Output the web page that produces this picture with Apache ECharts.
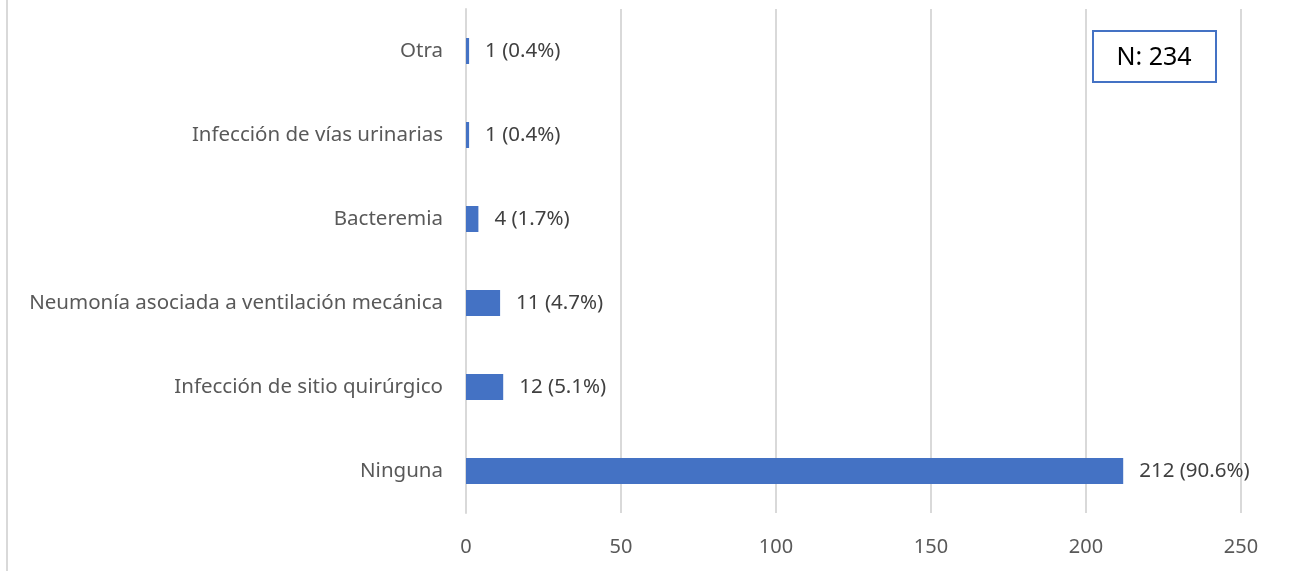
<!DOCTYPE html>
<html>
<head>
<meta charset="utf-8">
<script src="https://cdn.jsdelivr.net/npm/echarts@6/dist/echarts.min.js"></script>
<style>
  html, body { margin: 0; padding: 0; background: #fff; }
  #chart { width: 1289px; height: 571px; }
</style>
</head>
<body>
<div id="chart"></div>
<script>
// categories listed bottom to top
var categories = [
    'Ninguna',
    'Infección de sitio quirúrgico',
    'Neumonía asociada a ventilación mecánica',
    'Bacteremia',
    'Infección de vías urinarias',
    'Otra'
];
var counts = [212, 12, 11, 4, 1, 1];
var percents = ['90.6%', '5.1%', '4.7%', '1.7%', '0.4%', '0.4%'];
var totalLabel = 'N: 234';

var fontFamily = '"Noto Sans", "Open Sans", sans-serif';

var chartDom = document.getElementById('chart');
var myChart = echarts.init(chartDom);

var option = {
    backgroundColor: '#fff',
    animation: false,
    textStyle: { fontFamily: fontFamily },
    grid: {
        left: 466,
        right: 48,
        top: 9,
        bottom: 58,
        containLabel: false
    },
    xAxis: {
        type: 'value',
        min: 0,
        max: 250,
        interval: 50,
        axisLine: { show: false },
        axisTick: { show: false },
        splitLine: { lineStyle: { color: '#d9d9d9', width: 2 } },
        axisLabel: {
            color: '#595959',
            fontSize: 20,
            margin: 24,
            fontFamily: fontFamily
        }
    },
    yAxis: {
        type: 'category',
        data: categories,
        axisLine: { show: true, lineStyle: { color: '#d9d9d9', width: 2 } },
        axisTick: { show: false },
        axisLabel: {
            color: '#595959',
            fontSize: 20.5,
            margin: 23,
            fontFamily: fontFamily
        }
    },
    series: [
        {
            type: 'bar',
            data: counts,
            barWidth: 26,
            itemStyle: { color: '#4472c4' },
            label: {
                show: true,
                position: 'right',
                distance: 16,
                color: '#404040',
                fontSize: 20.5,
                fontFamily: fontFamily,
                formatter: function (p) {
                    return p.value + ' (' + percents[p.dataIndex] + ')';
                }
            }
        }
    ],
    graphic: [
        {
            type: 'rect',
            left: 6,
            top: 0,
            shape: { width: 2, height: 571 },
            style: { fill: '#d9d9d9' },
            silent: true
        },
        {
            type: 'rect',
            left: 1092,
            top: 30,
            shape: { width: 123, height: 51 },
            style: { fill: '#fff', stroke: '#4472c4', lineWidth: 2 },
            z: 10
        },
        {
            type: 'text',
            x: 1154,
            y: 58,
            style: {
                text: totalLabel,
                fill: '#000',
                fontSize: 25,
                fontFamily: fontFamily,
                align: 'center',
                verticalAlign: 'middle'
            },
            z: 11
        }
    ]
};

myChart.setOption(option);
</script>
</body>
</html>
